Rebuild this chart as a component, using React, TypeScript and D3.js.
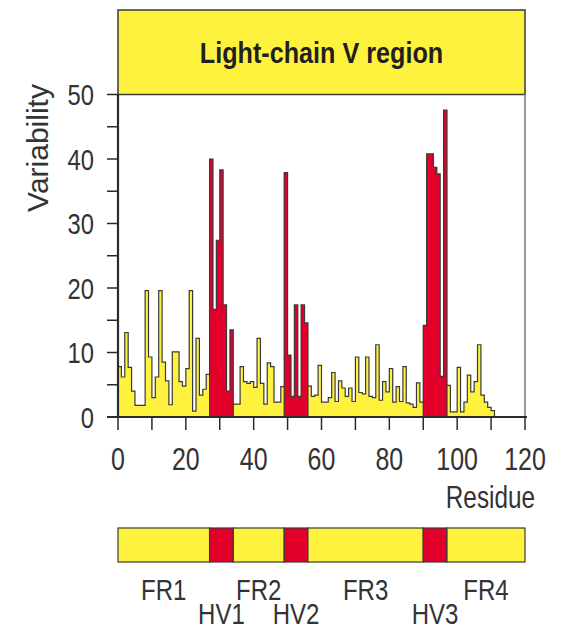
import React from 'react';
import * as d3 from 'd3';

// variability per residue (residue 1 .. 111)
const variability = [
  7.8, 6.2, 13.1, 7.7, 4.0, 1.8, 1.8, 1.8, 19.6, 9.3,
  3.0, 6.2, 19.6, 8.5, 5.6, 1.9, 10.1, 10.1, 5.5, 4.8,
  7.5, 19.6, 0.9, 12.2, 3.4, 4.3, 6.6, 40.0, 16.7, 27.4,
  38.3, 17.4, 4.0, 13.5, 2.0, 2.0, 7.8, 5.5, 5.2, 5.5,
  4.6, 12.2, 5.2, 2.0, 8.4, 7.8, 2.3, 2.3, 4.7, 37.9,
  9.6, 3.2, 17.4, 3.2, 17.4, 14.6, 4.8, 3.2, 3.4, 8.0,
  2.3, 2.3, 3.0, 6.9, 2.4, 5.6, 4.5, 3.2, 4.5, 2.4,
  9.3, 3.8, 3.6, 9.3, 3.2, 3.0, 11.2, 2.6, 5.5, 3.9,
  7.5, 2.3, 4.7, 2.4, 7.8, 2.2, 2.0, 1.5, 5.3, 2.3,
  14.2, 40.8, 40.8, 38.7, 37.7, 6.3, 47.6, 4.9, 0.8, 0.8,
  7.7, 0.8, 2.3, 6.5, 3.9, 5.5, 11.2, 3.4, 2.3, 1.5,
  1.0,
];

// hypervariable stretches (residue boundaries)
const hvStart = [27, 49, 90];
const hvEnd = [34, 56, 97];

// segments of the bar under the chart
const regionNames = ['FR1', 'HV1', 'FR2', 'HV2', 'FR3', 'HV3', 'FR4'];
const regionStarts = [0, 27, 34, 49, 56, 90, 97];
const regionEnds = [27, 34, 49, 56, 90, 97, 120];

const yTickLabels = [0, 10, 20, 30, 40, 50];
const xTickLabels = [0, 20, 40, 60, 80, 100, 120];

const YELLOW = '#fff23f';
const RED = '#e2002b';
const INK = '#2b2b2b';
const EDGE = '#3a3a3a';
const SANS = "'Liberation Sans', Arial, sans-serif";

const inHV = (a: number, b: number) =>
  hvStart.some((s, k) => a >= s && b <= hvEnd[k]);

// condensed-looking text: regular face squeezed horizontally
const NText = ({ x, y, anchor = 'middle', size, sx = 0.82, weight = 'normal', fill = '#333', children }: any) => (
  <text
    transform={`translate(${x},${y}) scale(${sx},1)`}
    textAnchor={anchor}
    fontFamily={SANS}
    fontSize={size}
    fontWeight={weight}
    fill={fill}
  >
    {children}
  </text>
);

const App = () => {
  const x = d3.scaleLinear().domain([0, 120]).range([118, 525]);
  const y = d3.scaleLinear().domain([0, 50]).range([417, 94.5]);

  const n = variability.length;
  const stepPts: [number, number][] = variability.map((v, i) => [i, v]);
  stepPts.push([n, variability[n - 1]]);
  stepPts.push([n, 0]);
  const outline = d3
    .line<[number, number]>()
    .x((d) => x(d[0]))
    .y((d) => y(d[1]))
    .curve(d3.curveStepAfter)([[0, 0], ...stepPts]);

  const minorY = d3.range(0, 51, 5);
  const minorX = d3.range(0, 121, 10);

  const regions = regionNames.map((name, i) => ({
    name,
    start: regionStarts[i],
    end: regionEnds[i],
    hv: name.startsWith('HV'),
  }));

  return (
    <svg
      width={561}
      height={633}
      style={{ position: 'absolute', left: 0, top: 0, background: '#fff' }}
    >
      {/* title box */}
      <rect x={x(0)} y={10} width={x(120) - x(0)} height={y(50) - 10} fill={YELLOW} stroke={EDGE} strokeWidth={1.5} />
      <NText x={(x(0) + x(120)) / 2} y={63} size={30} sx={0.84} weight="bold" fill="#231f20">
        Light-chain V  region
      </NText>

      {/* right frame */}
      <line x1={x(120)} x2={x(120)} y1={y(50)} y2={y(0)} stroke="#777" strokeWidth={1.5} />

      {/* bars */}
      <g shapeRendering="crispEdges">
        {variability.map((v, i) => (
          <rect
            key={i}
            x={x(i)}
            y={y(v)}
            width={x(i + 1) - x(i)}
            height={y(0) - y(v)}
            fill={inHV(i, i + 1) ? RED : YELLOW}
          />
        ))}
      </g>
      {hvStart.concat(hvEnd).map((b, k) => (
        <line
          key={'b' + k}
          x1={x(b)}
          x2={x(b)}
          y1={y(0)}
          y2={y(Math.min(variability[b - 1] ?? 0, variability[b] ?? 0))}
          stroke={EDGE}
          strokeWidth={1.2}
        />
      ))}
      <path d={outline ?? ''} fill="none" stroke={EDGE} strokeWidth={1.2} />

      {/* y axis */}
      <line x1={x(0)} x2={x(0)} y1={y(50)} y2={y(0)} stroke={INK} strokeWidth={2.2} />
      {minorY.map((t) => (
        <line key={'yt' + t} x1={x(0) - 11} x2={x(0)} y1={y(t)} y2={y(t)} stroke={INK} strokeWidth={1.5} />
      ))}
      {yTickLabels.map((t) => (
        <NText key={'yl' + t} x={94} y={y(t) + 10.5} anchor="end" size={29}>
          {t}
        </NText>
      ))}
      <text
        transform="translate(48,148) rotate(-90)"
        textAnchor="middle"
        fontFamily={SANS}
        fontSize={30}
        fill="#333"
      >
        Variability
      </text>

      {/* x axis */}
      <line x1={x(0) - 11} x2={x(120) + 2} y1={y(0)} y2={y(0)} stroke={INK} strokeWidth={2.2} />
      {minorX.map((t) => (
        <line key={'xt' + t} x1={x(t)} x2={x(t)} y1={y(0)} y2={y(0) + 13} stroke={INK} strokeWidth={1.5} />
      ))}
      {xTickLabels.map((t) => (
        <NText key={'xl' + t} x={x(t)} y={470} size={32} sx={0.78}>
          {t}
        </NText>
      ))}
      <NText x={535} y={508} anchor="end" size={32} sx={0.76}>
        Residue
      </NText>

      {/* region bar */}
      {regions.map((r) => (
        <rect
          key={'r' + r.name}
          x={x(r.start)}
          y={528}
          width={x(r.end) - x(r.start)}
          height={34}
          fill={r.hv ? RED : YELLOW}
          stroke={EDGE}
          strokeWidth={1.2}
        />
      ))}
      {regions.map((r) => (
        <NText
          key={'rl' + r.name}
          x={x((r.start + r.end) / 2)}
          y={r.hv ? 624 : 600}
          size={30}
          sx={0.8}
        >
          {r.name}
        </NText>
      ))}
    </svg>
  );
};

export default App;
